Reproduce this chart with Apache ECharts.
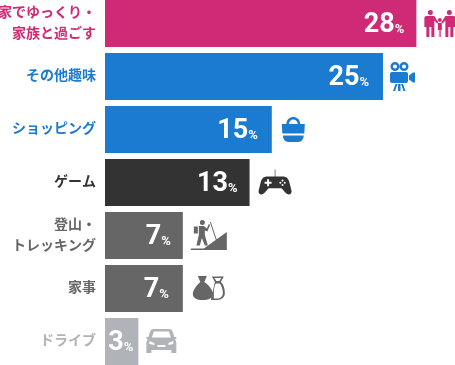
<!DOCTYPE html>
<html><head><meta charset="utf-8">
<style>html,body{margin:0;padding:0;background:#fff}#c{width:455px;height:365px}</style>
<script src="https://cdn.jsdelivr.net/npm/echarts@6/dist/echarts.min.js"></script>
</head><body><div id="c"></div>
<script>
const categories = ['家でゆっくり・\n家族と過ごす','その他趣味','ショッピング','ゲーム','登山・\nトレッキング','家事','ドライブ'];
const values = [28,25,15,13,7,7,3];
const colors = ['#cf2a76','#1b7bd1','#1b7bd1','#333333','#666666','#666666','#b0b3b7'];
const labelInsets = [12,14,14,12,12,14,5];
const circle = (cx,cy,r,ccw) => `M${cx-r},${cy} a${r},${r} 0 1 ${ccw?0:1} ${2*r},0 a${r},${r} 0 1 ${ccw?0:1} ${-2*r},0 Z `;
const icons = [
  { size:[31,27], off:[23.5,0], d:
    circle(6,2.5,2.5)+circle(25,2.5,2.5)+circle(15.5,10,2)+
    'M2,6 H10 L14,12.5 L12.7,13.5 L10,10.5 V27 H7 V17 H5 V27 H2 V17 H0 V8 Q0,6 2,6 Z '+
    'M21,6 H29 Q31,6 31,8 V17 H29 V27 H26 V17 H24 V27 H21 V10.5 L18.3,13.5 L17,12.5 Z '+
    'M13.5,13 H17.5 V20 H16.5 V27 H15.8 V20 H15.2 V27 H14.5 V20 H13.5 Z' },
  { size:[25,29], off:[19.5,0], d:
    circle(5,4.5,4.5)+circle(5,4.5,2,true)+circle(14,4.5,4.5)+circle(14,4.5,2,true)+
    'M2,10 H16 Q18,10 18,12 V19 Q18,21 16,21 H2 Q0,21 0,19 V12 Q0,10 2,10 Z '+
    'M19,13.5 L23,10.5 H25 V20.5 H23 L19,17.5 Z '+
    'M8,22 H10.5 V29 H8 Z M5.5,22 H7.5 L5,29 H3 Z M11,22 H13 L15.5,29 H13.5 Z' },
  { size:[23,25], off:[21.5,0], d:
    'M4.5,7 C5,2 8,0 11.5,0 C15,0 18,2 18.5,7 H16 C15.5,4 14,2.5 11.5,2.5 C9,2.5 7.5,4 7,7 Z '+
    'M0,7 H23 L22.5,16.5 H0.5 Z '+
    'M1,18.5 H22 Q21.5,25 16.5,25 H6.5 Q1.5,25 1,18.5 Z' },
  { size:[33,25], off:[25.5,-0.5], d:
    'M16.2,0 H16.8 V7 H16.2 Z '+
    'M9,7 H24 C28,7 30,9 31,13 L33,21 C33.5,24.5 30,26 27,23 L23,18.5 H10 L6,23 C3,26 -0.5,24.5 0,21 L2,13 C3,9 5,7 9,7 Z '+
    'M8.5,9.5 V12 H6 V14 H8.5 V16.5 H10.5 V14 H13 V12 H10.5 V9.5 Z '+
    circle(24,10.8,1,true)+circle(24,15.2,1,true)+circle(21.8,13,1,true)+circle(26.2,13,1,true) },
  { size:[36,30], off:[26,-0.5], d:
    circle(11.5,2.5,2.5)+
    'M3,6.5 H7 V13.5 H3 Z '+
    'M8,6 H13 L16,8.5 L18,4 L19.3,4.7 L16.5,11.5 L14,10.5 V15 L17,25.5 H14 L11,18 L9,25.5 H5.5 L8,15 Z '+
    'M19,2 H20 L26,20 H25 Z '+
    'M0,30 V28.5 H13 L36,12 V30 Z' },
  { size:[32,24], off:[26,-0.5], d:
    'M5,0 H14 L11.5,6 C16,9 20,14 20,18 C20,22 16,24 10,24 C4,24 0,22 0,18 C0,14 4,9 7.5,6 Z '+
    'M19,0.5 H31 L28,6 C30.5,8 32,12 32,17 C32,21 29,24 24,24 H18 L22,6 Z '+
    'M21.5,2 L23.5,5 H26.5 L28.5,2 Z '+
    'M23,7.5 C21.5,9.5 21,13 21,18 V22.5 H24 C27.5,22.5 30,20.5 30,17 C30,13 28.5,9.5 27,7.5 Z' },
  { size:[30,24], off:[23,-0.5], d:
    'M7,0 H23 Q25,0 26,2 L28,8 H30 V10 H28.5 Q30,12 30,14 V24 H25 V21 H5 V24 H0 V14 Q0,12 1.5,10 H0 V8 H2 L4,2 Q5,0 7,0 Z '+
    'M7.5,2.5 L5.5,8.5 H24.5 L22.5,2.5 Z '+
    'M3,12 V15 L8,16 V14 Z M27,12 L22,14 V16 L27,15 Z M11,16 V18 H19 V16 Z' }
];
const font = '"Noto Sans CJK JP"';
const chart = echarts.init(document.getElementById('c'), null, {renderer:'canvas'});
chart.setOption({
  animation:false,
  backgroundColor:'#fff',
  grid:{left:105,top:-3,width:333.6,height:371,containLabel:false,outerBoundsMode:'none'},
  xAxis:{type:'value',min:0,max:30,show:false},
  yAxis:{type:'category',inverse:true,data:categories,
    axisLine:{show:false},axisTick:{show:false},splitLine:{show:false},
    axisLabel:{interval:0,margin:9,fontFamily:font,fontWeight:'bold',fontSize:14,align:'right',
      color:(v,i)=>colors[i],
      formatter:v=>v.split('\n').map(s=>`{r|${s}}`).join('\n'),
      rich:{r:{fontFamily:font,fontWeight:'bold',fontSize:14,lineHeight:21,padding:[0,0,3,0]}}}},
  series:[
    {type:'bar',barWidth:47,silent:true,clip:false,
     data:values.map((v,i)=>({value:v,itemStyle:{color:colors[i]},
       label:{show:true,position:'insideRight',distance:labelInsets[i],offset:[0,2],
         formatter:p=>`{n|${p.value}}{p|%}`,
         rich:{n:{fontFamily:'Roboto',fontWeight:'bold',fontSize:27,color:'#fff',verticalAlign:'bottom',lineHeight:27},
               p:{fontFamily:'Roboto',fontWeight:'bold',fontSize:13,color:'#fff',verticalAlign:'bottom',lineHeight:13,padding:[0,0,3,0]}}}}))},
    {type:'scatter',silent:true,clip:false,
     data:values.map((v,i)=>({value:[v,i],symbol:'path://'+icons[i].d,symbolSize:icons[i].size,symbolOffset:icons[i].off,itemStyle:{color:colors[i],opacity:1}}))}
  ]
});
</script></body></html>
